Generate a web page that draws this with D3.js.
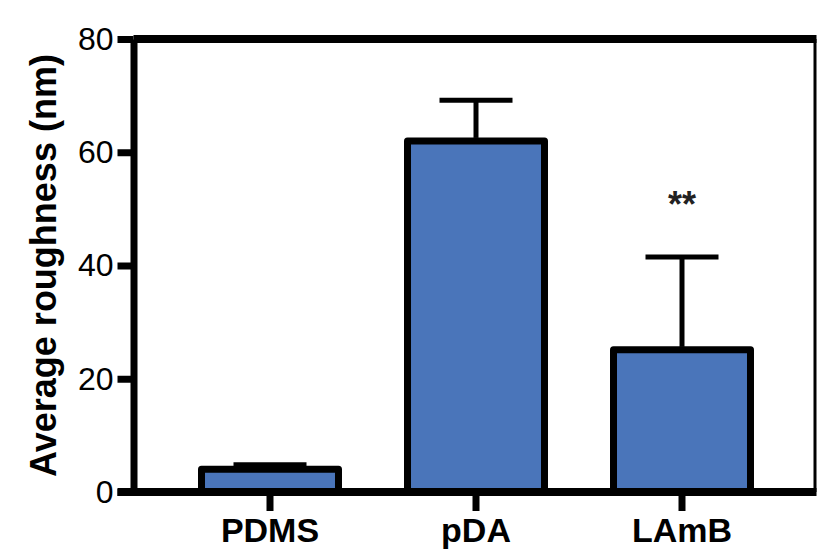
<!DOCTYPE html>
<html>
<head>
<meta charset="utf-8">
<script src="https://cdn.jsdelivr.net/npm/d3@7"></script>
<style>
  html, body { margin: 0; padding: 0; background: #fff; }
  svg { display: block; font-family: "Liberation Sans", Arial, sans-serif; }
</style>
</head>
<body>
<svg id="chart" width="817" height="559"></svg>
<script>
const categories = ["PDMS", "pDA", "LAmB"];
const means = [4.0, 62.0, 25.1];
const errors = [0.8, 7.2, 16.4];
const yTicks = [0, 20, 40, 60, 80];
const annotations = [{ category: "LAmB", text: "**" }];

(function () {
const svg = d3.select("#chart");
const pLeft = 133.5, pRight = 815, pTop = 39, pBottom = 492;

const y = d3.scaleLinear().domain([0, 80]).range([pBottom, pTop]);
const x = d3.scaleBand().domain(categories).range([167, 785])
  .paddingInner(0.335).paddingOuter(0.1675);

const data = categories.map((c, i) => ({ c, v: means[i], e: errors[i] }));

// bars
svg.append("g").selectAll("rect").data(data).join("rect")
  .attr("x", d => x(d.c))
  .attr("y", d => y(d.v))
  .attr("width", x.bandwidth())
  .attr("height", d => y(0) - y(d.v))
  .attr("fill", "#4a75ba")
  .attr("stroke", "#000")
  .attr("stroke-width", 7)
  .attr("stroke-linejoin", "round");

// error bars
const eg = svg.append("g").attr("stroke", "#000").attr("stroke-width", 5);
eg.selectAll("line.v").data(data).join("line").attr("class", "v")
  .attr("x1", d => x(d.c) + x.bandwidth() / 2)
  .attr("x2", d => x(d.c) + x.bandwidth() / 2)
  .attr("y1", d => y(d.v) - 3)
  .attr("y2", d => y(d.v + d.e));
eg.selectAll("line.cap").data(data).join("line").attr("class", "cap")
  .attr("x1", d => x(d.c) + x.bandwidth() / 2 - 36.5)
  .attr("x2", d => x(d.c) + x.bandwidth() / 2 + 36.5)
  .attr("y1", d => y(d.v + d.e))
  .attr("y2", d => y(d.v + d.e));

// frame: top and right
svg.append("line").attr("x1", pLeft).attr("x2", pRight + 1.5)
  .attr("y1", y(80)).attr("y2", y(80))
  .attr("stroke", "#000").attr("stroke-width", 8);
svg.append("line").attr("x1", pRight).attr("x2", pRight)
  .attr("y1", y(80)).attr("y2", y(0))
  .attr("stroke", "#000").attr("stroke-width", 3);

// y axis
const ya = svg.append("g").attr("transform", `translate(${pLeft},0)`)
  .call(d3.axisLeft(y).tickValues(yTicks).tickSize(16).tickSizeOuter(0).tickPadding(4));
ya.select(".domain").attr("stroke-width", 7).attr("stroke", "#000");
ya.selectAll(".tick line").attr("stroke-width", 7).attr("stroke", "#000");
ya.selectAll(".tick text").attr("font-size", 32).attr("fill", "#000")
  .attr("font-family", "Liberation Sans, Arial, sans-serif");

// x axis
const xa = svg.append("g").attr("transform", `translate(0,${pBottom})`)
  .call(d3.axisBottom(x).tickSize(19).tickSizeOuter(0).tickPadding(7));
xa.select(".domain").attr("d", `M${pLeft - 16},0H${pRight + 1.5}`)
  .attr("stroke-width", 8).attr("stroke", "#000");
xa.selectAll(".tick line").attr("stroke-width", 7).attr("stroke", "#000");
xa.selectAll(".tick text").attr("font-size", 34).attr("font-weight", "bold")
  .attr("fill", "#000").attr("font-family", "Liberation Sans, Arial, sans-serif");

// y title
svg.append("text")
  .attr("transform", `translate(56,${(pTop + pBottom) / 2}) rotate(-90)`)
  .attr("text-anchor", "middle")
  .attr("font-size", 36).attr("font-weight", "bold")
  .text("Average roughness (nm)");

// significance annotation
svg.selectAll("text.ann").data(annotations).join("text").attr("class", "ann")
  .attr("x", d => x(d.category) + x.bandwidth() / 2)
  .attr("y", 217)
  .attr("text-anchor", "middle")
  .attr("font-size", 36).attr("font-weight", "bold")
  .attr("fill", "#222")
  .text(d => d.text);
})();
</script>
</body>
</html>
